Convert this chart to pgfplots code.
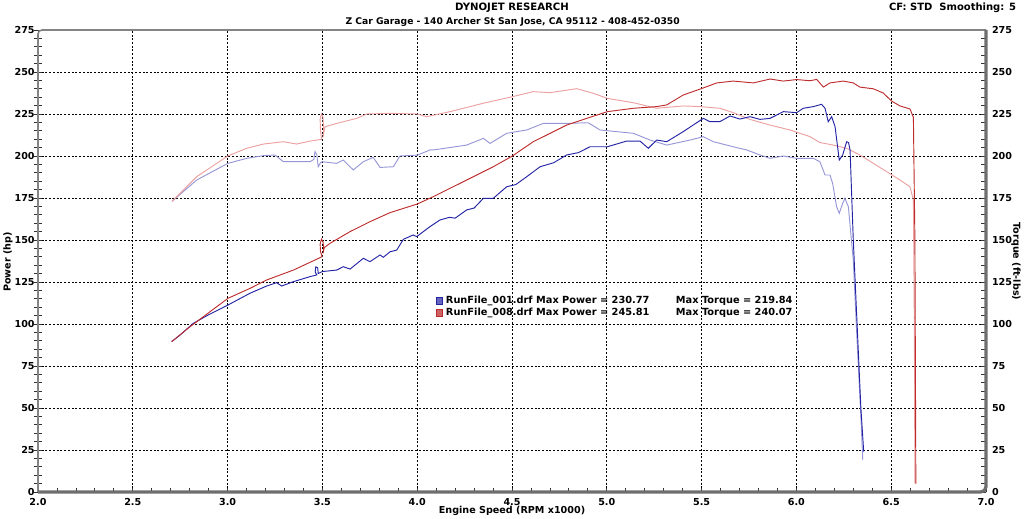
\documentclass[border=0pt]{standalone}
\usepackage{fontspec}
\setmainfont{DejaVu Sans}
\usepackage{pgfplots}
\pgfplotsset{compat=1.18}
\definecolor{pblue}{RGB}{35,35,165}
\definecolor{tblue}{RGB}{150,150,215}
\definecolor{pred}{RGB}{190,45,45}
\definecolor{tred}{RGB}{236,160,160}
\definecolor{framec}{RGB}{110,110,110}
\newcommand\lbl{\fontsize{7.2}{8}\selectfont\bfseries}
\newcommand\leg{\fontsize{7.35}{8}\selectfont\bfseries}
\begin{document}
\begin{tikzpicture}
\useasboundingbox (-28.5pt,-19.5pt) rectangle (739.5pt,369pt);
\begin{axis}[
  at={(0pt,0pt)}, anchor=south west,
  scale only axis, width=711pt, height=346.5pt,
  xmin=2, xmax=7, ymin=0, ymax=275,
  axis line style={draw=none},
  xtick={2,2.5,...,7},
  xticklabels={2.0,2.5,3.0,3.5,4.0,4.5,5.0,5.5,6.0,6.5,7.0},
  ytick={0,25,...,275},
  yticklabels={0,25,50,75,100,125,150,175,200,225,250,275},
  minor x tick num=4, minor y tick num=4,
  xtick pos=bottom, ytick pos=left,
  xtick align=inside, ytick align=center,
  major tick length=6pt, minor tick length=6pt,
  xtick style={/pgfplots/major tick length=3pt,/pgfplots/minor tick length=3pt, black!80, line width=0.6pt},
  ytick style={black!80, line width=0.6pt},
  tick label style={font=\lbl},
  xticklabel style={yshift=-1.5pt},
  yticklabel style={xshift=4pt},
  grid=major,
  major grid style={black, line width=0.55pt, dash pattern=on 1.5pt off 1.3pt},
  legend style={at={(rel axis cs:0.4198,0.4295)}, anchor=north west, draw=none, fill=none,
    font=\leg, inner sep=0pt, row sep=-2.2pt, cells={anchor=west},
    /tikz/every even column/.append style={column sep=0pt}},
  legend cell align=left,
]
% torque curves
\addplot[tblue, line width=0.7pt, forget plot] coordinates {
(2.707,173) (2.837,185.7) (3.001,195.6) (3.101,198.6) (3.188,200.2) (3.250,200.6)
(3.294,196.6) (3.364,196.6) (3.435,196.6) (3.455,198) (3.461,202.6) (3.470,201)
(3.478,193.6) (3.49,196) (3.499,196.6) (3.575,195.6) (3.610,197.6) (3.663,191.7)
(3.716,196.6) (3.768,199.2) (3.804,193.2) (3.874,193.6) (3.909,200) (4.000,200.5)
(4.068,203.6) (4.085,203.6) (4.17,205) (4.261,206.5) (4.349,210.5) (4.384,207.5) (4.472,213.5)
(4.578,215.5) (4.665,219.4) (4.788,219.4) (4.902,219.8) (4.964,215.5) (5.052,214.5)
(5.140,213.5) (5.228,209.5) (5.316,206.5) (5.439,209.5) (5.509,211.5) (5.562,208.5)
(5.632,206.5) (5.685,205) (5.738,203.6) (5.808,200.6) (5.861,198.6) (5.931,200)
(6.001,198.6) (6.089,198.6) (6.124,196.6) (6.151,188.7) (6.177,188.7) (6.191,183.7)
(6.212,169.8) (6.226,165.9) (6.244,171.8) (6.256,174.8) (6.274,169.8) (6.300,138)
(6.32,90) (6.34,45) (6.35,19)
};
\addplot[tred, line width=0.7pt, forget plot] coordinates {
(2.707,173) (2.837,187.7) (3.001,200) (3.101,204.6) (3.188,207.1) (3.294,208.5)
(3.364,207.1) (3.435,208.9) (3.496,209.9) (3.49,215) (3.488,222) (3.495,225)
(3.503,223) (3.507,215) (3.503,211) (3.51,215.5) (3.514,217.4) (3.575,219.4)
(3.681,222.4) (3.734,225) (3.857,225.4) (4.000,225) (4.05,223.4) (4.173,226.4)
(4.349,231.4) (4.502,235.3) (4.612,238.3) (4.700,237.7) (4.841,240.07) (4.929,237.3)
(5.003,234.3) (5.140,231.7) (5.263,228.4) (5.403,229.8) (5.492,229.4) (5.597,228.4)
(5.667,225.8) (5.755,221.8) (5.861,218.4) (5.966,215.5) (6.072,211.5) (6.124,208)
(6.195,206.5) (6.265,204.6) (6.335,200.6) (6.406,195.6) (6.476,190.7) (6.546,185.7)
(6.599,181.7) (6.617,173.8) (6.622,100) (6.625,5)
};
% power curves
\addplot[pblue, line width=0.7pt,
  legend image code/.code={\draw[fill=pblue!70, draw=pblue] (0pt,-2.6pt) rectangle (4.6pt,2.6pt);}]
coordinates {
(2.705,89.5) (2.75,93.5) (2.819,100.4) (2.9,105.5) (3.002,111.3) (3.118,118.3)
(3.206,122.6) (3.259,124.6) (3.285,122.6) (3.347,125.2) (3.435,128.2) (3.470,129.2)
(3.462,131) (3.465,134) (3.475,133.5) (3.478,130) (3.499,131.2) (3.575,132.1)
(3.610,134.1) (3.646,132.7) (3.716,139.1) (3.751,137.1) (3.804,141.1) (3.821,139.7)
(3.857,143) (3.892,144) (3.927,150.4) (3.979,153) (3.997,152) (4.068,158)
(4.120,161.9) (4.17,163.5) (4.2,163) (4.261,167.9) (4.3,169) (4.349,174.8) (4.401,174.8) (4.472,181.7)
(4.52,183) (4.578,187.7) (4.648,193.6) (4.72,196) (4.788,200.6) (4.85,202) (4.911,205.5) (5.003,205.5) (5.105,208.9) (5.175,208.9)
(5.219,204.6) (5.263,209.5) (5.316,208.5) (5.403,214.5) (5.509,222.4) (5.544,220.4)
(5.597,220.5) (5.650,223.8) (5.702,222) (5.755,223.4) (5.808,221.8) (5.861,222.4)
(5.931,226.4) (6.001,225.8) (6.036,228.4) (6.089,229.4) (6.133,230.77) (6.151,228.4)
(6.168,220.4) (6.186,223.4) (6.204,217.4) (6.226,197.6) (6.244,200.6) (6.265,208.5)
(6.275,208) (6.283,203.6) (6.300,150) (6.320,100) (6.340,50) (6.355,24)
};
\addlegendentry{\makebox[172.5pt][l]{RunFile\_001.drf Max Power = 230.77}Max Torque = 219.84}
\addplot[pred, line width=0.7pt,
  legend image code/.code={\draw[fill=pred!75, draw=pred] (0pt,-2.6pt) rectangle (4.6pt,2.6pt);}]
coordinates {
(2.705,89.5) (2.802,98.4) (3.002,115.3) (3.118,121.2) (3.206,126.2) (3.347,132.1)
(3.499,140.1) (3.49,143) (3.488,147.5) (3.495,150.5) (3.503,149) (3.507,145)
(3.503,142) (3.51,145.5) (3.540,148) (3.646,155) (3.751,160.9) (3.857,166.3)
(4.000,171.4) (4.085,175.8) (4.261,185.7) (4.401,193.6) (4.502,200) (4.612,208.5)
(4.788,218.4) (4.894,222.4) (5.003,226.4) (5.140,228.4) (5.263,229.4) (5.316,230.4)
(5.403,236.3) (5.504,240.3) (5.580,243.5) (5.667,244.6) (5.773,243.5) (5.861,245.81)
(5.931,244.6) (6.001,245.5) (6.072,244.8) (6.107,245.6) (6.142,241) (6.177,243.5)
(6.247,244.6) (6.300,243.5) (6.335,241) (6.406,240) (6.458,237.5) (6.502,232.7)
(6.546,229.8) (6.599,228) (6.617,223) (6.625,150) (6.630,5)
};
\addlegendentry{\makebox[172.5pt][l]{RunFile\_008.drf Max Power = 245.81}Max Torque = 240.07}
\end{axis}
\begin{axis}[
  at={(0pt,0pt)}, anchor=south west,
  scale only axis, width=711pt, height=346.5pt,
  xmin=2, xmax=7, ymin=0, ymax=275,
  axis line style={draw=none},
  hide x axis,
  ytick={0,25,...,275},
  yticklabels={0,25,50,75,100,125,150,175,200,225,250,275},
  minor y tick num=4,
  ytick pos=right, yticklabel pos=right,
  ytick align=inside,
  major tick length=4pt, minor tick length=4pt,
  ytick style={black!80, line width=0.6pt},
  tick label style={font=\lbl},
  yticklabel style={xshift=1pt},
]
\end{axis}
% frame
\draw[framec!85, line width=1.2pt, rounded corners=3pt] (0pt,0pt) -- (0pt,346.5pt) -- (711pt,346.5pt);
\draw[framec, line width=2.4pt, rounded corners=4pt] (711pt,346.5pt) -- (711pt,0pt) -- (0pt,0pt);
% titles and labels
\node[font=\fontsize{7.6}{8}\selectfont\bfseries] at (355.5pt,363pt) {DYNOJET RESEARCH};
\node[font=\fontsize{6.9}{8}\selectfont\bfseries] at (356pt,352.5pt) {Z Car Garage - 140 Archer St San Jose, CA 95112 - 408-452-0350};
\node[font=\fontsize{7.5}{8}\selectfont\bfseries, anchor=east] at (737pt,363pt) {CF: STD\ \ Smoothing: 5};
\node[font=\lbl] at (355.5pt,-14.5pt) {Engine Speed (RPM x1000)};
\node[font=\lbl, rotate=90] at (-22.5pt,172.5pt) {Power (hp)};
\node[font=\lbl, rotate=-90] at (733.5pt,173pt) {Torque (ft-lbs)};
\end{tikzpicture}
\end{document}
